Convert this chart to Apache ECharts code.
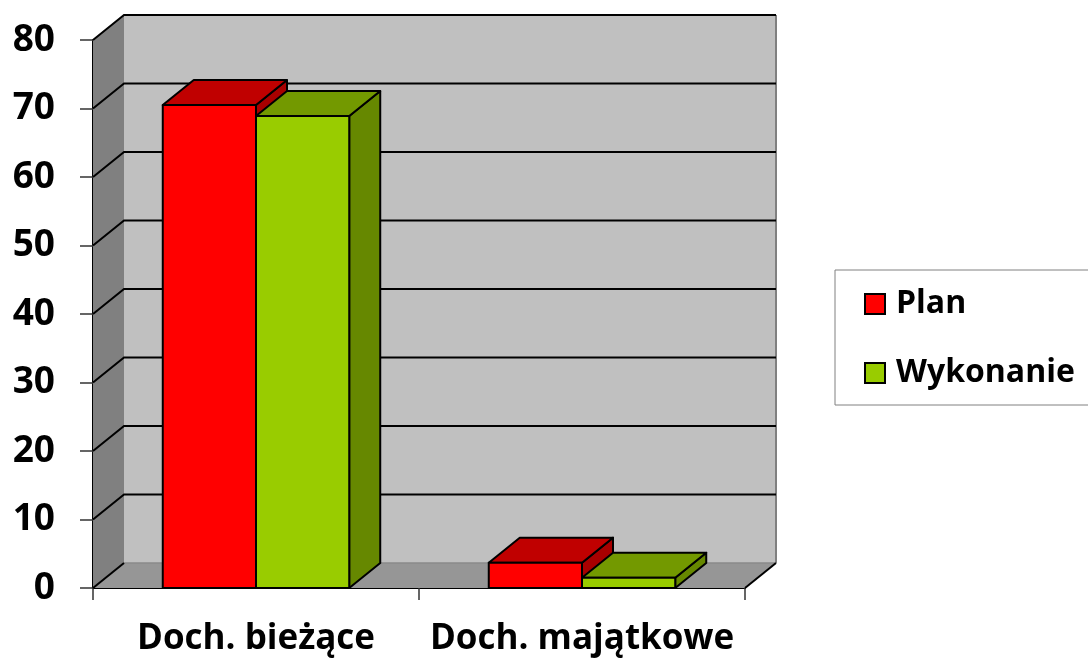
<!DOCTYPE html>
<html>
<head>
<meta charset="utf-8">
<script src="https://cdn.jsdelivr.net/npm/echarts@6/dist/echarts.min.js"></script>
<style>
  html, body { margin: 0; padding: 0; background: #fff; }
  #chart { width: 1088px; height: 659px; }
</style>
</head>
<body>
<div id="chart"></div>
<script>
const categories = ['Doch. bieżące', 'Doch. majątkowe'];
const planValues = [70.5, 3.7];
const wykonanieValues = [68.9, 1.5];
const yTickValues = [0, 10, 20, 30, 40, 50, 60, 70, 80];

const FONT = 'Open Sans';
// przesuniecie glebi (pseudo 3D)
const DX = 31, DY = -25;

function wallsItem(params, api) {
  const cs = params.coordSys;
  const x0 = cs.x, x1 = cs.x + cs.width, yT = cs.y, yB = cs.y + cs.height;
  const kids = [
    { type: 'polygon', shape: { points: [[x0, yB], [x1, yB], [x1 + DX, yB + DY], [x0 + DX, yB + DY]] }, style: { fill: '#969696' } },
    { type: 'rect', shape: { x: x0 + DX, y: yT + DY, width: x1 - x0, height: yB - yT }, style: { fill: '#c0c0c0' } },
    { type: 'polygon', shape: { points: [[x0, yB], [x0, yT], [x0 + DX, yT + DY], [x0 + DX, yB + DY]] }, style: { fill: '#808080' } },
    { type: 'line', shape: { x1: x0 + DX, y1: yB + DY, x2: x1 + DX, y2: yB + DY }, style: { stroke: '#8a8a8a', lineWidth: 1.5 } },
    { type: 'line', shape: { x1: x1 + DX, y1: yT + DY, x2: x1 + DX, y2: yB + DY }, style: { stroke: '#808080', lineWidth: 2 } },
    { type: 'line', shape: { x1: x0, y1: yB, x2: x0 + DX, y2: yB + DY }, style: { stroke: '#000', lineWidth: 2 } },
    { type: 'line', shape: { x1: x1, y1: yB, x2: x1 + DX, y2: yB + DY }, style: { stroke: '#000', lineWidth: 2 } }
  ];
  yTickValues.forEach(v => {
    if (v === 0) return;
    const y = api.coord([0, v])[1];
    kids.push({ type: 'polyline', shape: { points: [[x0, y], [x0 + DX, y + DY], [x1 + DX, y + DY]] }, style: { stroke: '#000', lineWidth: 2, fill: null } });
  });
  return { type: 'group', children: kids };
}

function barItem(side, frontColor, topColor, sideColor) {
  return function (params, api) {
    const i = api.value(0);
    const p = api.coord([i, api.value(1)]);
    const b = api.coord([i, 0]);
    const bw = api.size([1, 0])[0] * 0.286;
    const xl = side === 0 ? p[0] - bw : p[0];
    const xr = xl + bw;
    const st = { stroke: '#000', lineWidth: 2, lineJoin: 'round' };
    return {
      type: 'group',
      children: [
        { type: 'polygon', shape: { points: [[xr, b[1]], [xr, p[1]], [xr + DX, p[1] + DY], [xr + DX, b[1] + DY]] }, style: Object.assign({ fill: sideColor }, st) },
        { type: 'polygon', shape: { points: [[xl, p[1]], [xr, p[1]], [xr + DX, p[1] + DY], [xl + DX, p[1] + DY]] }, style: Object.assign({ fill: topColor }, st) },
        { type: 'rect', shape: { x: xl, y: p[1], width: bw, height: b[1] - p[1] }, style: Object.assign({ fill: frontColor }, st) }
      ]
    };
  };
}

const chart = echarts.init(document.getElementById('chart'));
chart.setOption({
  animation: false,
  backgroundColor: '#fff',
  grid: { left: 93, right: 343, top: 40, bottom: 71, containLabel: false },
  legend: {
    data: ['Plan', 'Wykonanie'],
    orient: 'vertical',
    left: 835,
    top: 270,
    icon: 'rect',
    itemWidth: 20,
    itemHeight: 20,
    itemGap: 35,
    padding: [17, 40, 15, 29],
    borderColor: '#808080',
    borderWidth: 1,
    backgroundColor: '#fff',
    itemStyle: { borderColor: '#000', borderWidth: 2 },
    textStyle: { fontFamily: FONT, fontWeight: 'bold', fontSize: 32, lineHeight: 34, color: '#000', padding: [0, 0, 0, 6] }
  },
  xAxis: {
    type: 'category',
    data: categories,
    axisLine: { show: true, lineStyle: { color: '#000', width: 2 } },
    axisTick: { show: true, interval: 0, length: 12, lineStyle: { color: '#333', width: 1.5 } },
    axisLabel: { interval: 0, fontFamily: FONT, fontWeight: 'bold', fontSize: 35, color: '#000', margin: 34 },
    splitLine: { show: false }
  },
  yAxis: {
    type: 'value',
    min: 0,
    max: 80,
    interval: 10,
    axisLine: { show: true, lineStyle: { color: '#000', width: 2 } },
    axisTick: { show: true, length: 13, lineStyle: { color: '#333', width: 1.5 } },
    axisLabel: { fontFamily: FONT, fontWeight: 'bold', fontSize: 37, color: '#000', margin: 38 },
    splitLine: { show: false }
  },
  series: [
    {
      type: 'custom',
      silent: true,
      z: 1,
      renderItem: wallsItem,
      encode: { x: 0, y: 1 },
      data: [[0, 0]]
    },
    {
      name: 'Plan',
      type: 'custom',
      z: 2,
      itemStyle: { color: '#ff0000' },
      renderItem: barItem(0, '#ff0000', '#c00000', '#a80000'),
      encode: { x: 0, y: 1 },
      data: categories.map((c, i) => [i, planValues[i]])
    },
    {
      name: 'Wykonanie',
      type: 'custom',
      z: 3,
      itemStyle: { color: '#99cc00' },
      renderItem: barItem(1, '#99cc00', '#739900', '#668800'),
      encode: { x: 0, y: 1 },
      data: categories.map((c, i) => [i, wykonanieValues[i]])
    }
  ]
});
</script>
</body>
</html>
